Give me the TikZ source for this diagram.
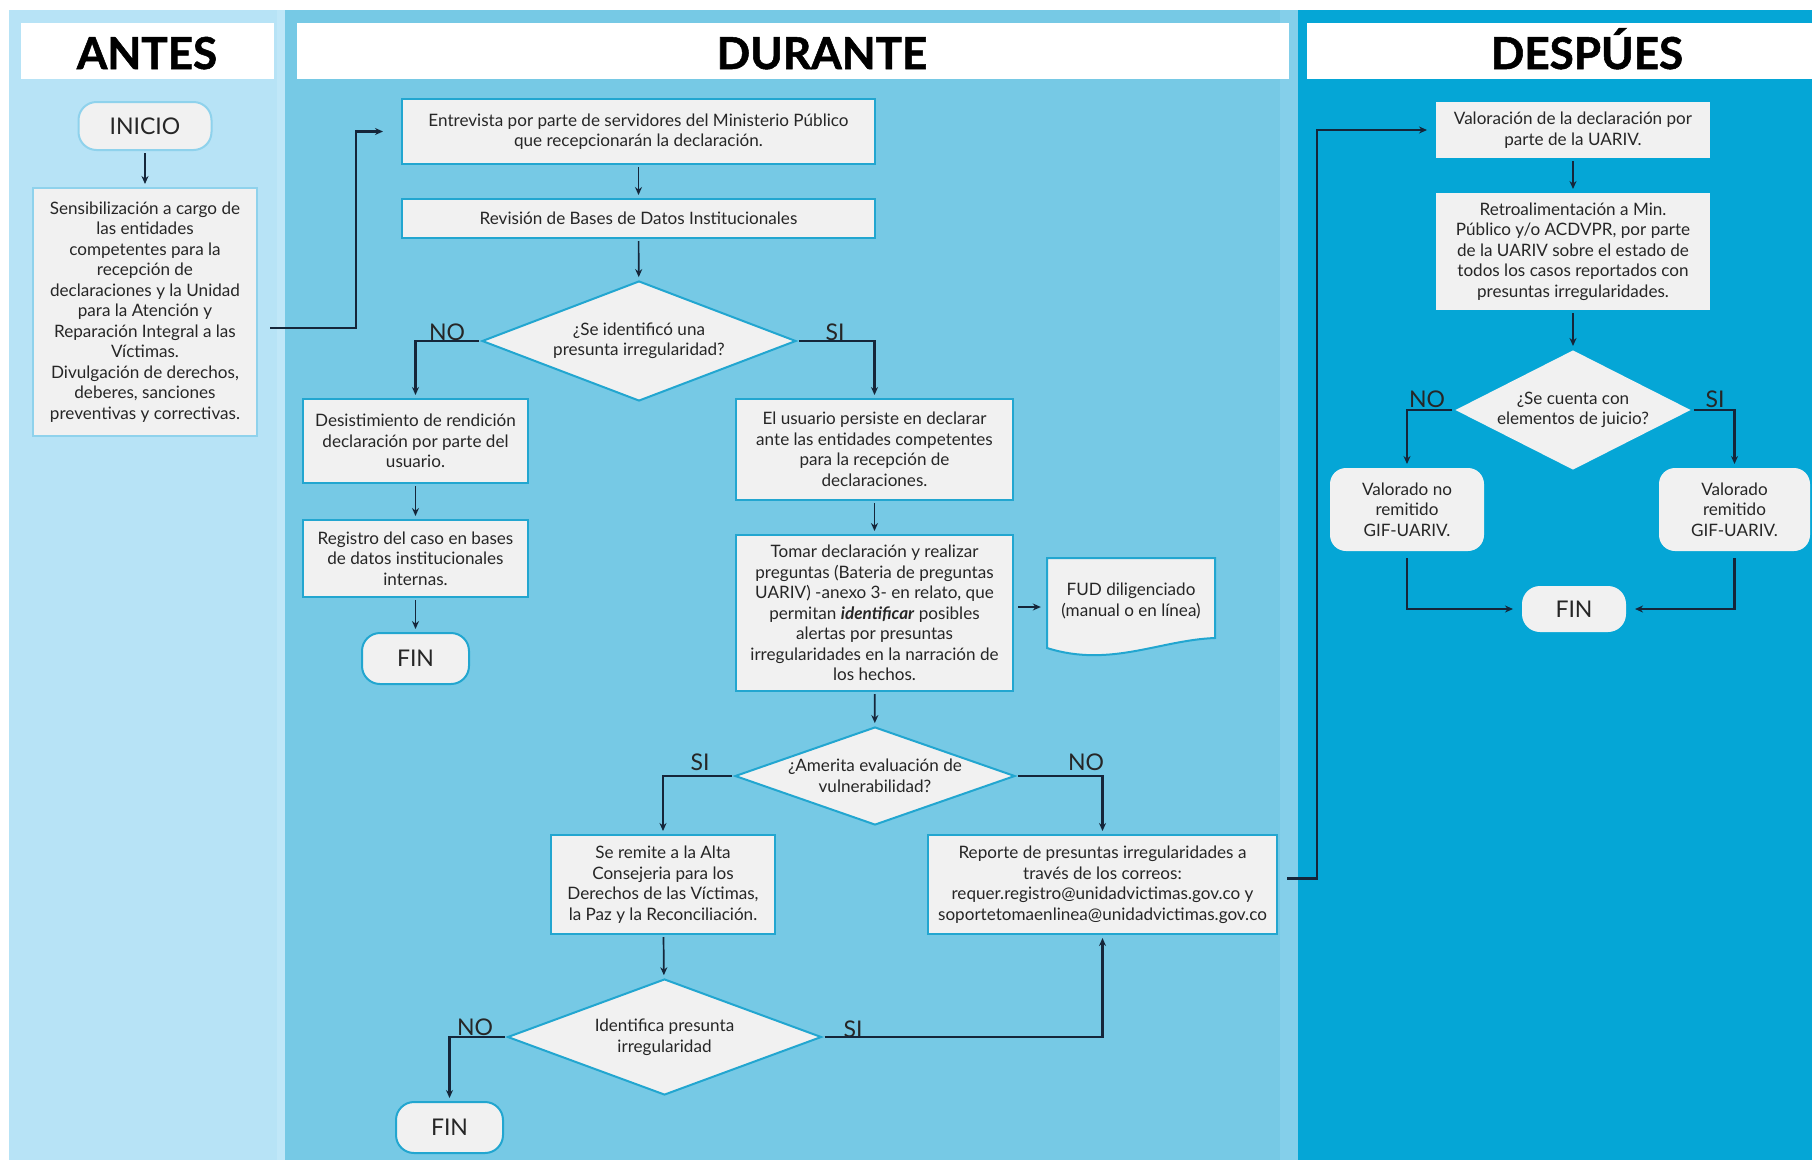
\documentclass[tikz,border=0pt]{standalone}
\usepackage{fontspec}
\setmainfont{Lato}
\newfontfamily\hdrfamily[FakeBold=1.2]{Lato Bold}
\usetikzlibrary{shapes.geometric,arrows.meta,calc}
\definecolor{antesbg}{HTML}{B7E3F6}
\definecolor{antesstripe}{HTML}{C0E7F8}
\definecolor{durbg}{HTML}{76C9E5}
\definecolor{durstripe}{HTML}{84CFEA}
\definecolor{despbg}{HTML}{05A6D6}
\definecolor{boxfill}{HTML}{F1F1F1}
\definecolor{boxedge}{HTML}{22A6D0}
\definecolor{lightedge}{HTML}{8FD2EC}
\definecolor{linecol}{HTML}{15263A}
\definecolor{txt}{HTML}{262626}
\newcommand{\bodyf}{\fontsize{17.1}{20.5}\selectfont}
\newcommand{\bigf}{\fontsize{23}{26}\selectfont}
\newcommand{\hdrf}{\hdrfamily\fontsize{44}{50}\selectfont}
\begin{document}
\begin{tikzpicture}[x=1pt,y=-1pt,
  box/.style={draw=boxedge, line width=2pt, fill=boxfill, align=center, inner sep=0pt, font=\bodyf, text=txt},
  dbox/.style={box, draw=none},
  dia/.style={box, diamond},
  pill/.style={box, rounded corners=18pt, font=\bigf},
  lbl/.style={font=\bigf, text=txt, inner sep=0pt},
  hdr/.style={font=\hdrf, text=black, inner sep=0pt, anchor=base},
  arr/.style={draw=linecol, line width=1.7pt, -{Stealth[length=8pt,width=7pt]}, shorten >=3pt, shorten <=2pt},
  brarr/.style={arr, line width=2.1pt}
]
\useasboundingbox (0,0) rectangle (1812,1160);
\fill[white] (0,0) rectangle (1812,1160);
% panels
\fill[antesbg] (9,10) rectangle (285,1160);
\fill[antesstripe] (277,10) rectangle (285,1160);
\fill[durbg] (285,10) rectangle (1298,1160);
\fill[durstripe] (1280,10) rectangle (1298,1160);
\fill[despbg] (1298,10) rectangle (1812,1160);
% headers
\fill[white] (21,23) rectangle (274,79);
\fill[white] (297,23) rectangle (1289,79);
\fill[white] (1307,23) rectangle (1812,79);
\node[hdr] (hA) at (147,69) {ANTES};
\node[hdr] (hD) at (822,69) {DURANTE};
\node[hdr] (hP) at (1587,69) {DESPÚES};

% ANTES
\node[pill, draw=lightedge, minimum width=133, minimum height=48] (inicio) at (145,126) {INICIO};
\node[box, draw=lightedge, minimum width=224, minimum height=248] (sens) at (145,312)
 {Sensibilización a cargo de\\ las entidades\\ competentes para la\\ recepción de\\ declaraciones y la Unidad\\ para la Atención y\\ Reparación Integral a las\\ Víctimas.\\ Divulgación de derechos,\\ deberes, sanciones\\ preventivas y correctivas.};

% DURANTE
\node[box, minimum width=473, minimum height=65] (entrev) at (638.5,131.5)
 {Entrevista por parte de servidores del Ministerio Público\\ que recepcionarán la declaración.};
\node[box, minimum width=473, minimum height=39] (revis) at (638.5,218.5)
 {Revisión de Bases de Datos Institucionales};
\node[dia, shape aspect=2.6, minimum width=314, minimum height=120] (d1) at (639,341)
 {¿Se identificó una\\ presunta irregularidad?};
\node[box, minimum width=225, minimum height=84] (desist) at (415.5,441)
 {Desistimiento de rendición\\ declaración por parte del\\ usuario.};
\node[box, minimum width=225, minimum height=77] (registro) at (415.5,558.5)
 {Registro del caso en bases\\ de datos institucionales\\ internas.};
\node[pill, minimum width=107, minimum height=51] (fin1) at (415.5,658.5) {FIN};
\node[box, minimum width=277, minimum height=101] (persiste) at (874.5,449.5)
 {El usuario persiste en declarar\\ ante las entidades competentes\\ para la recepción de\\ declaraciones.};
\node[box, minimum width=277, minimum height=156] (tomar) at (874.5,613)
 {Tomar declaración y realizar\\ preguntas (Bateria de preguntas\\ UARIV) -anexo 3- en relato, que\\ permitan \textbf{\textit{identificar}} posibles\\ alertas por presuntas\\ irregularidades en la narración de\\ los hechos.};
\filldraw[fill=boxfill, draw=boxedge, line width=2pt] (1047,558) -- (1215,558) -- (1215,638)
  .. controls (1160,640) and (1110,668) .. (1047,648) -- cycle;
\node[inner sep=0pt, align=center, font=\bodyf, text=txt, minimum width=168, minimum height=80] (fud) at (1131,601)
 {FUD diligenciado\\ (manual o en línea)};
\node[dia, shape aspect=2.85, minimum width=280, minimum height=98] (d2) at (875,776)
 {¿Amerita evaluación de\\ vulnerabilidad?};
\node[box, minimum width=224, minimum height=99] (remite) at (663,884.5)
 {Se remite a la Alta\\ Consejeria para los\\ Derechos de las Víctimas,\\ la Paz y la Reconciliación.};
\node[box, minimum width=349, minimum height=99] (reporte) at (1102.5,884.5)
 {Reporte de presuntas irregularidades a\\ través de los correos:\\ requer.registro@unidadvictimas.gov.co y\\ soportetomaenlinea@unidadvictimas.gov.co};
\node[dia, shape aspect=2.7, minimum width=314, minimum height=116] (d3) at (664.5,1037)
 {Identifica presunta\\ irregularidad};
\node[pill, minimum width=107, minimum height=51] (fin2) at (449.5,1127.5) {FIN};

% DESPUES
\node[dbox, minimum width=274, minimum height=56] (valor) at (1573,130)
 {Valoración de la declaración por\\ parte de la UARIV.};
\node[dbox, minimum width=274, minimum height=117] (retro) at (1573,251.5)
 {Retroalimentación a Min.\\ Público y/o ACDVPR, por parte\\ de la UARIV sobre el estado de\\ todos los casos reportados con\\ presuntas irregularidades.};
\node[dia, draw=none, shape aspect=1.97, minimum width=236, minimum height=120] (d4) at (1573,410)
 {¿Se cuenta con\\ elementos de juicio?};
\node[dbox, rounded corners=16pt, minimum width=154, minimum height=83] (valno) at (1407,509.5)
 {Valorado no\\ remitido\\ GIF-UARIV.};
\node[dbox, rounded corners=16pt, minimum width=151, minimum height=83] (valsi) at (1734.5,509.5)
 {Valorado\\ remitido\\ GIF-UARIV.};
\node[pill, draw=none, minimum width=104, minimum height=46] (fin3) at (1574,609) {FIN};

% labels
\node[lbl] (l1) at (447,332) {NO};
\node[lbl] (l2) at (835,332) {SI};
\node[lbl] (l3) at (700,762) {SI};
\node[lbl] (l4) at (1086,762) {NO};
\node[lbl] (l5) at (475,1027) {NO};
\node[lbl] (l6) at (853,1029) {SI};
\node[lbl] (l7) at (1427,399) {NO};
\node[lbl] (l8) at (1715,399) {SI};

% connectors
\coordinate (c1) at (268,328);
\draw[arr] (inicio) -- (sens);
\draw[brarr, shorten >=18pt] (c1) -- (356,328) |- (entrev.west);
\draw[arr] (entrev) -- (revis);
\draw[arr] (revis) -- (d1);
\draw[brarr] (d1.west) -| (desist.north);
\draw[brarr] (d1.east) -| (persiste.north);
\draw[arr] (desist) -- (registro);
\draw[arr] (registro) -- (fin1);
\draw[arr] (persiste) -- (tomar);
\draw[brarr, shorten <=4pt, shorten >=6pt] ([yshift=6pt]tomar.east) -- ([yshift=6pt]tomar.east -| fud.west);
\draw[arr] (tomar) -- (d2);
\draw[brarr] (d2.west) -| (remite.north);
\draw[brarr] (d2.east) -| (reporte.north);
\draw[arr] (remite) -- (d3);
\draw[brarr] (d3.west) -| (fin2.north);
\draw[brarr] (d3.east) -| (reporte.south);
\draw[brarr, shorten <=9pt, shorten >=8pt] ([yshift=6pt]reporte.east) -- ++(39,0) |- (valor.west);
\draw[arr] (valor) -- (retro);
\draw[arr] (retro) -- (d4);
\draw[brarr] (d4.west) -| (valno.north);
\draw[brarr] (d4.east) -| (valsi.north);
\draw[brarr, shorten <=6pt, shorten >=8pt] (valno.south) |- (fin3.west);
\draw[brarr, shorten <=6pt, shorten >=8pt] (valsi.south) |- (fin3.east);
\end{tikzpicture}
\end{document}
